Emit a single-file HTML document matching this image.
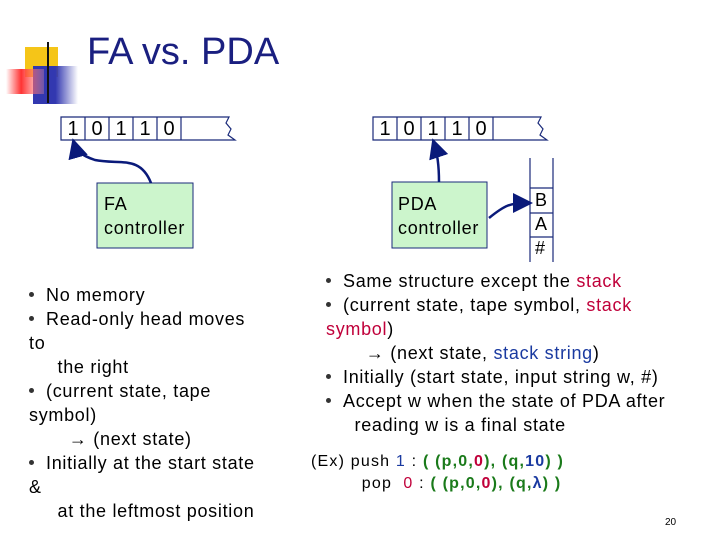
<!DOCTYPE html>
<html><head><style>
body{margin:0;width:720px;height:540px;background:#fff;position:relative;overflow:hidden;font-family:"Liberation Sans",sans-serif;}
.t{position:absolute;font-size:18px;color:#000;white-space:nowrap;line-height:24px;letter-spacing:0.7px;}
.b{display:inline-block;width:5px;height:5px;border-radius:50%;background:#333;margin:0 12px 4px 0;vertical-align:middle;}
.r{color:#c0003a}.bl{color:#1a3aa0}
.c{display:inline-block;width:24px;text-align:center}
</style></head><body>
<svg width="720" height="540" style="position:absolute;left:0;top:0">
<defs>
<linearGradient id="rg" x1="0" x2="1"><stop offset="0" stop-color="#fff"/><stop offset=".4" stop-color="#f33"/><stop offset="1" stop-color="#f99" stop-opacity=".3"/></linearGradient>
<linearGradient id="bg" x1="0" x2="1"><stop offset=".5" stop-color="#3238b0"/><stop offset="1" stop-color="#3238b0" stop-opacity="0"/></linearGradient>
<linearGradient id="ln" x1="0" x2="1"><stop offset="0" stop-color="#555"/><stop offset="1" stop-color="#ccc"/></linearGradient>
<marker id="a" markerWidth="8" markerHeight="8" refX="6" refY="4" orient="auto"><path d="M0,0L8,4L0,8z" fill="#0a1a7a"/></marker>
</defs>
<rect x="25" y="47" width="33" height="30" fill="#f5c518"/>
<rect x="33" y="66" width="45" height="38" fill="url(#bg)"/>
<rect x="6" y="69" width="38" height="25" fill="url(#rg)"/>
<line x1="48" y1="42" x2="48" y2="103" stroke="#111" stroke-width="2"/>
<line x1="32" y1="78" x2="300" y2="78" stroke="url(#ln)" stroke-width="3"/>
<g stroke="#1a2a7a" fill="none" stroke-width="1.2">
<path d="M61,117H229l-3,6 5,6-3,6 7,5H61z"/>
<path d="M85,117v23M109,117v23M133,117v23M157,117v23M181,117v23"/>
<path d="M373,117H541l-3,6 5,6-3,6 7,5H373z"/>
<path d="M397,117v23M421,117v23M445,117v23M469,117v23M493,117v23"/>
<path d="M530,158V262M553,158V262M530,188h23M530,213h23M530,237h23"/>
</g>
<rect x="97" y="183" width="96" height="65" fill="#ccf5cc" stroke="#1a2a7a"/>
<rect x="392" y="182" width="95" height="66" fill="#ccf5cc" stroke="#1a2a7a"/>
<g stroke="#0a1a7a" stroke-width="2.5" fill="none">
<path d="M151,183C140,155 120,165 95,160C80,155 76,150 74,143" marker-end="url(#a)"/>
<path d="M439,182C439,165 437,152 434,143" marker-end="url(#a)"/>
<path d="M489,218C505,205 510,203 528,203" marker-end="url(#a)"/>
</g>
</svg>
<div class="t" style="left:87px;top:30px;font-size:38px;line-height:44px;color:#1a1f80;letter-spacing:0">FA vs. PDA</div>
<div class="t" style="left:61px;top:117px;font-size:20px;letter-spacing:0"><span class="c">1</span><span class="c">0</span><span class="c">1</span><span class="c">1</span><span class="c">0</span></div>
<div class="t" style="left:373px;top:117px;font-size:20px;letter-spacing:0"><span class="c">1</span><span class="c">0</span><span class="c">1</span><span class="c">1</span><span class="c">0</span></div>
<div class="t" style="left:104px;top:192px">FA<br>controller</div>
<div class="t" style="left:398px;top:192px">PDA<br>controller</div>
<div class="t" style="left:535px;top:188px;font-size:18px;line-height:24px">B<br>A<br>#</div>
<div class="t" style="left:29px;top:283px"><span class="b"></span>No memory<br><span class="b"></span>Read-only head moves<br>to<br>&nbsp;&nbsp;&nbsp;&nbsp; the right<br><span class="b"></span>(current state, tape<br>symbol)<br>&nbsp;&nbsp;&nbsp;&nbsp;&nbsp;&nbsp;&nbsp;→ (next state)<br><span class="b"></span>Initially at the start state<br>&amp;<br>&nbsp;&nbsp;&nbsp;&nbsp; at the leftmost position</div>
<div class="t" style="left:326px;top:269px"><span class="b"></span>Same structure except the <span class="r">stack</span><br><span class="b"></span>(current state, tape symbol, <span class="r">stack</span><br><span class="r">symbol</span>)<br>&nbsp;&nbsp;&nbsp;&nbsp;&nbsp;&nbsp;&nbsp;→ (next state, <span class="bl">stack string</span>)<br><span class="b"></span>Initially (start state, input string w, #)<br><span class="b"></span>Accept w when the state of PDA after<br>&nbsp;&nbsp;&nbsp;&nbsp; reading w is a final state</div>
<div class="t" style="left:311px;top:451px;font-size:16px;line-height:22px;letter-spacing:1.2px">(Ex) push <span class="bl">1</span> : <b style="color:#1a7a1a">( (p,0,<span class="r">0</span>), (q,<span class="bl">10</span>) )</b><br>&nbsp;&nbsp;&nbsp;&nbsp;&nbsp;&nbsp;&nbsp;&nbsp;&nbsp;pop&nbsp; <span class="r">0</span> : <b style="color:#1a7a1a">( (p,0,<span class="r">0</span>), (q,<span class="bl">λ</span>) )</b></div>
<div class="t" style="left:665px;top:516px;font-size:10px;line-height:14px;letter-spacing:0">20</div>
</body></html>
